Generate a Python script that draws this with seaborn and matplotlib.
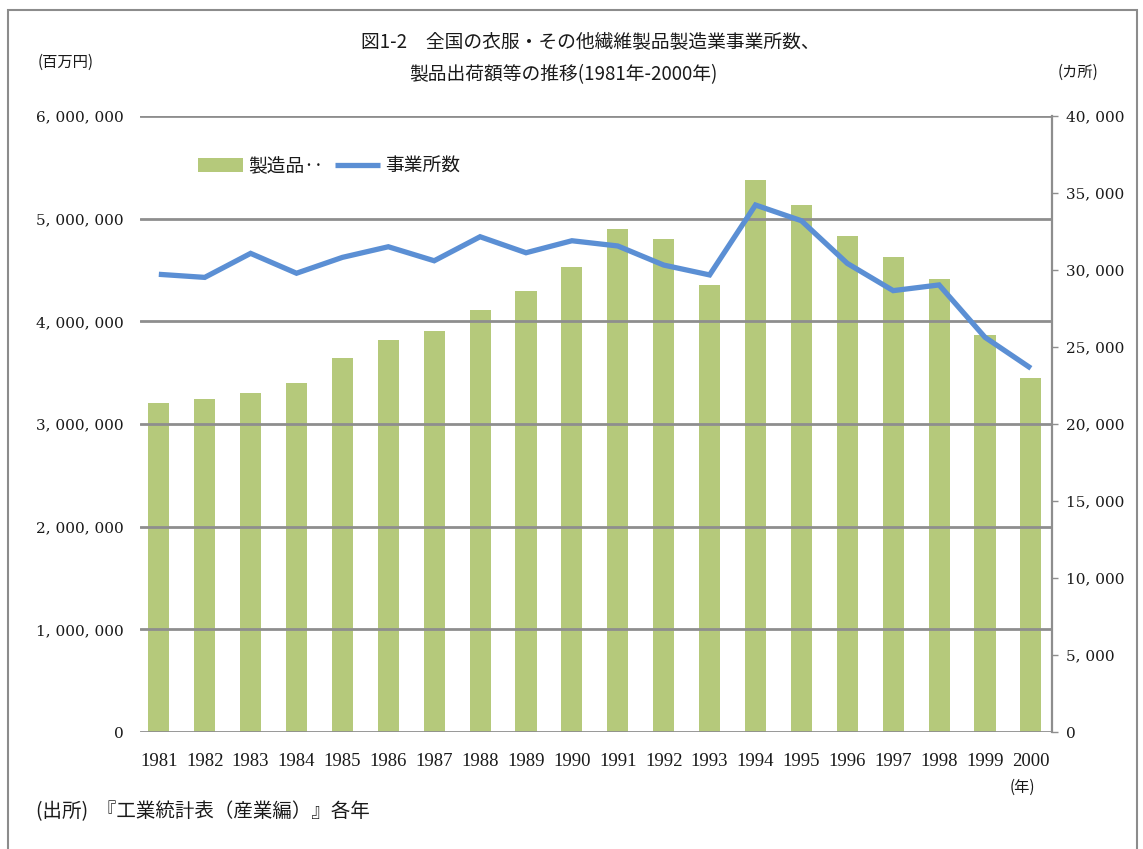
import numpy as np
import pandas as pd
import matplotlib
matplotlib.use("Agg")
import matplotlib.pyplot as plt
from matplotlib.patches import Rectangle
from matplotlib.ticker import FixedLocator, FuncFormatter
import seaborn as sns

# ---- data -------------------------------------------------------------
years = ["1981", "1982", "1983", "1984", "1985", "1986", "1987", "1988", "1989", "1990",
         "1991", "1992", "1993", "1994", "1995", "1996", "1997", "1998", "1999", "2000"]
# shipments of products (million yen)
shipments = [3200000, 3240000, 3300000, 3400000, 3640000, 3820000, 3910000, 4110000,
             4300000, 4530000, 4900000, 4800000, 4350000, 5380000, 5130000, 4830000,
             4630000, 4410000, 3870000, 3450000]
# number of establishments
establishments = [29720, 29520, 31080, 29790, 30820, 31510, 30600, 32160, 31120, 31900,
                  31560, 30320, 29680, 34220, 33200, 30430, 28660, 29030, 25630, 23620]

left_ticks = [0, 1000000, 2000000, 3000000, 4000000, 5000000, 6000000]
right_ticks = [0, 5000, 10000, 15000, 20000, 25000, 30000, 35000, 40000]

bar_label = "製造品‥"
line_label = "事業所数"
title_line1 = "図1-2　全国の衣服・その他繊維製品製造業事業所数、"
title_line2 = "製品出荷額等の推移(1981年-2000年)"
left_unit = "(百万円)"
right_unit = "(カ所)"
x_unit = "(年)"
source_note = "(出所)  『工業統計表（産業編）』各年"

# ---- style ------------------------------------------------------------
sns.set_theme(style="white")
JP = ["Noto Sans CJK JP", "DejaVu Sans"]
plt.rcParams["font.family"] = JP
NUM_FONT = "DejaVu Serif"
YEAR_FONT = "Liberation Serif"

BAR_COLOR = "#b5c97b"
LINE_COLOR = "#5b8fd4"
GRID_COLOR = "#8e8e8e"
TEXT_COLOR = "#1a1a1a"

W, H = 1143, 849
fig = plt.figure(figsize=(W / 100, H / 100), dpi=100)
fig.patch.set_facecolor("white")


def fx(px):
    return px / W


def fy(py):
    return 1 - py / H


ax_left, ax_right, ax_top, ax_bottom = 140, 1052, 116, 732
ax = fig.add_axes([fx(ax_left), fy(ax_bottom), fx(ax_right - ax_left), (ax_bottom - ax_top) / H])

df = pd.DataFrame({
    "year": years,
    "pos": np.arange(len(years)),
    "shipments": shipments,
    "establishments": establishments,
})

# bars: product shipments on the left axis
sns.barplot(data=df, x="year", y="shipments", color=BAR_COLOR, saturation=1,
            width=0.46, linewidth=0, ax=ax, label=bar_label, zorder=1)
if ax.get_legend() is not None:
    ax.get_legend().remove()

# line: establishments on the right axis
ax2 = ax.twinx()
sns.lineplot(data=df, x="pos", y="establishments", color=LINE_COLOR, linewidth=3.8,
             ax=ax2, label=line_label, solid_joinstyle="miter", solid_capstyle="butt",
             zorder=3)
if ax2.get_legend() is not None:
    ax2.get_legend().remove()

ax.set_xlim(-0.41, 19.46)
ax2.set_xlim(-0.41, 19.46)

# left axis
ax.set_ylim(0, 6000000)
ax.yaxis.set_major_locator(FixedLocator(left_ticks))
ax.yaxis.set_major_formatter(FuncFormatter(lambda v, p: f"{int(v):,}".replace(",", ", ")))
ax.yaxis.grid(True, color=GRID_COLOR, linewidth=2.0)
ax.xaxis.grid(False)
ax.set_axisbelow(False)
ax.tick_params(axis="y", length=0, pad=12, labelsize=11, labelcolor=TEXT_COLOR)
ax.tick_params(axis="x", length=0, pad=15, labelsize=13.5, labelcolor=TEXT_COLOR)
for s in ax.spines.values():
    s.set_visible(False)
ax.set_xlabel("")
ax.set_ylabel("")

# right axis
ax2.set_ylim(0, 40000)
ax2.yaxis.set_major_locator(FixedLocator(right_ticks))
ax2.yaxis.set_major_formatter(FuncFormatter(lambda v, p: f"{int(v):,}".replace(",", ", ")))
ax2.grid(False)
ax2.tick_params(axis="y", direction="out", length=4, width=1, color=GRID_COLOR,
                pad=6, labelsize=11, labelcolor=TEXT_COLOR)
for name, s in ax2.spines.items():
    s.set_visible(name == "right")
ax2.spines["right"].set_color(GRID_COLOR)
ax2.spines["right"].set_linewidth(1.6)
ax2.set_xlabel("")
ax2.set_ylabel("")

for lbl in ax.get_yticklabels() + ax2.get_yticklabels():
    lbl.set_fontfamily(NUM_FONT)
for lbl in ax.get_xticklabels():
    lbl.set_fontfamily(YEAR_FONT)

# legend combining both series
h1, l1 = ax.get_legend_handles_labels()
h2, l2 = ax2.get_legend_handles_labels()
leg = ax2.legend(h1 + h2, l1 + l2, ncol=2, frameon=False, loc="center left",
                 bbox_to_anchor=(fx(190), fy(166)), bbox_transform=fig.transFigure,
                 fontsize=13.5, handlelength=2.4, handleheight=0.7, handletextpad=0.3,
                 columnspacing=0.6, borderaxespad=0)
for t in leg.get_texts():
    t.set_color(TEXT_COLOR)

# titles and notes
fig.text(fx(590), fy(42), title_line1, ha="center", va="center", fontsize=13.5, color=TEXT_COLOR)
fig.text(fx(563), fy(75), title_line2, ha="center", va="center", fontsize=13.5, color=TEXT_COLOR)
fig.text(fx(38), fy(62), left_unit, ha="left", va="center", fontsize=11, color=TEXT_COLOR)
fig.text(fx(1058), fy(72), right_unit, ha="left", va="center", fontsize=11, color=TEXT_COLOR)
fig.text(fx(1022), fy(787), x_unit, ha="center", va="center", fontsize=11, color=TEXT_COLOR)
fig.text(fx(36), fy(812), source_note, ha="left", va="center", fontsize=14, color=TEXT_COLOR)

# outer frame
fig.patches.append(Rectangle((fx(8), -0.02), fx(1137 - 8), fy(10) + 0.02,
                             transform=fig.transFigure, fill=False,
                             edgecolor="#8c8c8c", linewidth=1.5))

fig.savefig("out.png", dpi=100, facecolor="white")
